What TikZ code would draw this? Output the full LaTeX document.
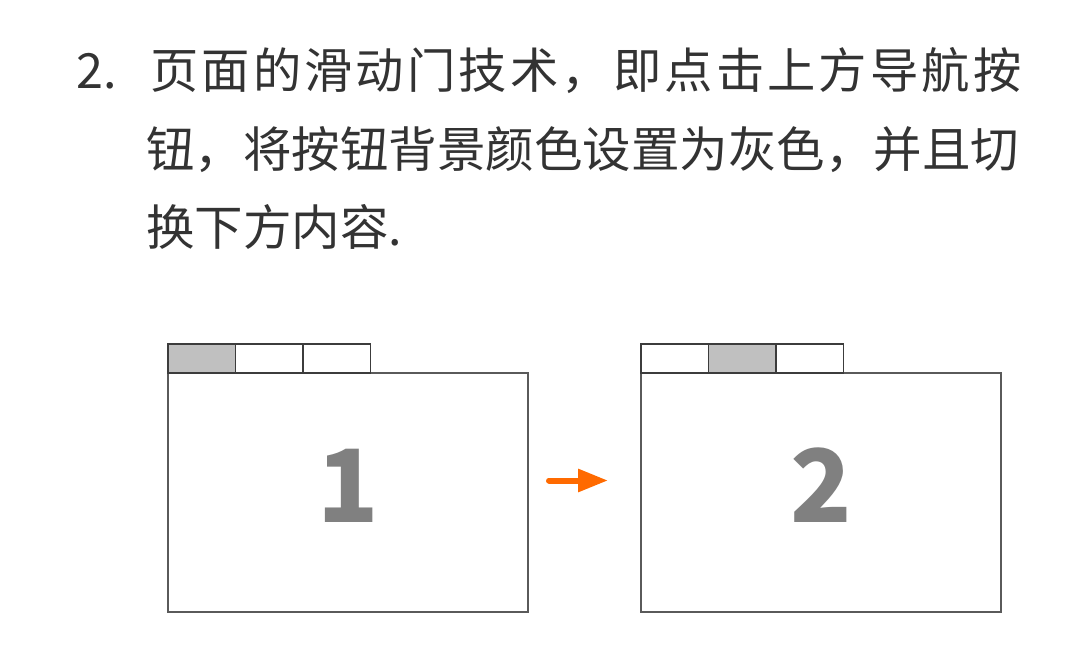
\documentclass[tikz,border=0pt]{standalone}
\usepackage{fontspec}
\newfontfamily\cjk{Noto Sans CJK SC}
\newfontfamily\cjkwide[LetterSpace=6.5]{Noto Sans CJK SC}
\usetikzlibrary{positioning,arrows.meta}
\definecolor{textgray}{HTML}{333333}
\definecolor{framegray}{HTML}{5A5A5A}
\definecolor{tabline}{HTML}{3C3C3C}
\definecolor{tabfill}{HTML}{C0C0C0}
\definecolor{numgray}{HTML}{808080}
\definecolor{arroworange}{HTML}{FF6A00}
\tikzset{
  line/.style={font=\cjk\fontsize{48.5}{58}\selectfont,text=textgray,anchor=base west,inner sep=0pt},
  panel/.style={draw=framegray,line width=1.3pt,minimum width=360pt,minimum height=239pt,inner sep=0pt,outer sep=0pt},
  tab/.style={draw=tabline,line width=1.3pt,fill=white,minimum width=67.5pt,minimum height=29pt,inner sep=0pt,outer sep=0pt},
  num/.style={font=\cjk\bfseries\fontsize{101}{101}\selectfont,text=numgray,inner sep=0pt},
  go/.style={draw=arroworange,line width=6pt,line cap=round,-{Triangle[length=30pt,width=22pt]}}
}
\begin{document}
\begin{tikzpicture}[x=1pt,y=-1pt]
  \useasboundingbox (0,0) rectangle (1080,671);

  % text
  \node[line] (nr) at (76,89) {2.};
  \node[line,font=\cjkwide\fontsize{48.3}{58}\selectfont] (l1) at (150,89) {页面的滑动门技术，即点击上方导航按};
  \node[line] (l2) at (146,168) {钮，将按钮背景颜色设置为灰色，并且切};
  \node[line] (l3) at (146,246) {换下方内容.};

  % panels
  \node[panel] (p1) at (348,492.5) {};
  \node[panel] (p2) at (821,492.5) {};

  \node[tab,fill=tabfill,anchor=south west] (t11) at (p1.north west) {};
  \node[tab,right=0pt of t11] (t12) {};
  \node[tab,right=0pt of t12] (t13) {};

  \node[tab,anchor=south west] (t21) at (p2.north west) {};
  \node[tab,fill=tabfill,right=0pt of t21] (t22) {};
  \node[tab,right=0pt of t22] (t23) {};

  \node[num] (n1) at ([yshift=7pt]p1.center) {1};
  \node[num] (n2) at ([yshift=7pt]p2.center) {2};

  % arrow
  \coordinate (a1) at ([xshift=21pt,yshift=12pt]p1.east);
  \coordinate (a2) at ([xshift=-33pt,yshift=12pt]p2.west);
  \draw[go] (a1) -- (a2);
\end{tikzpicture}
\end{document}
